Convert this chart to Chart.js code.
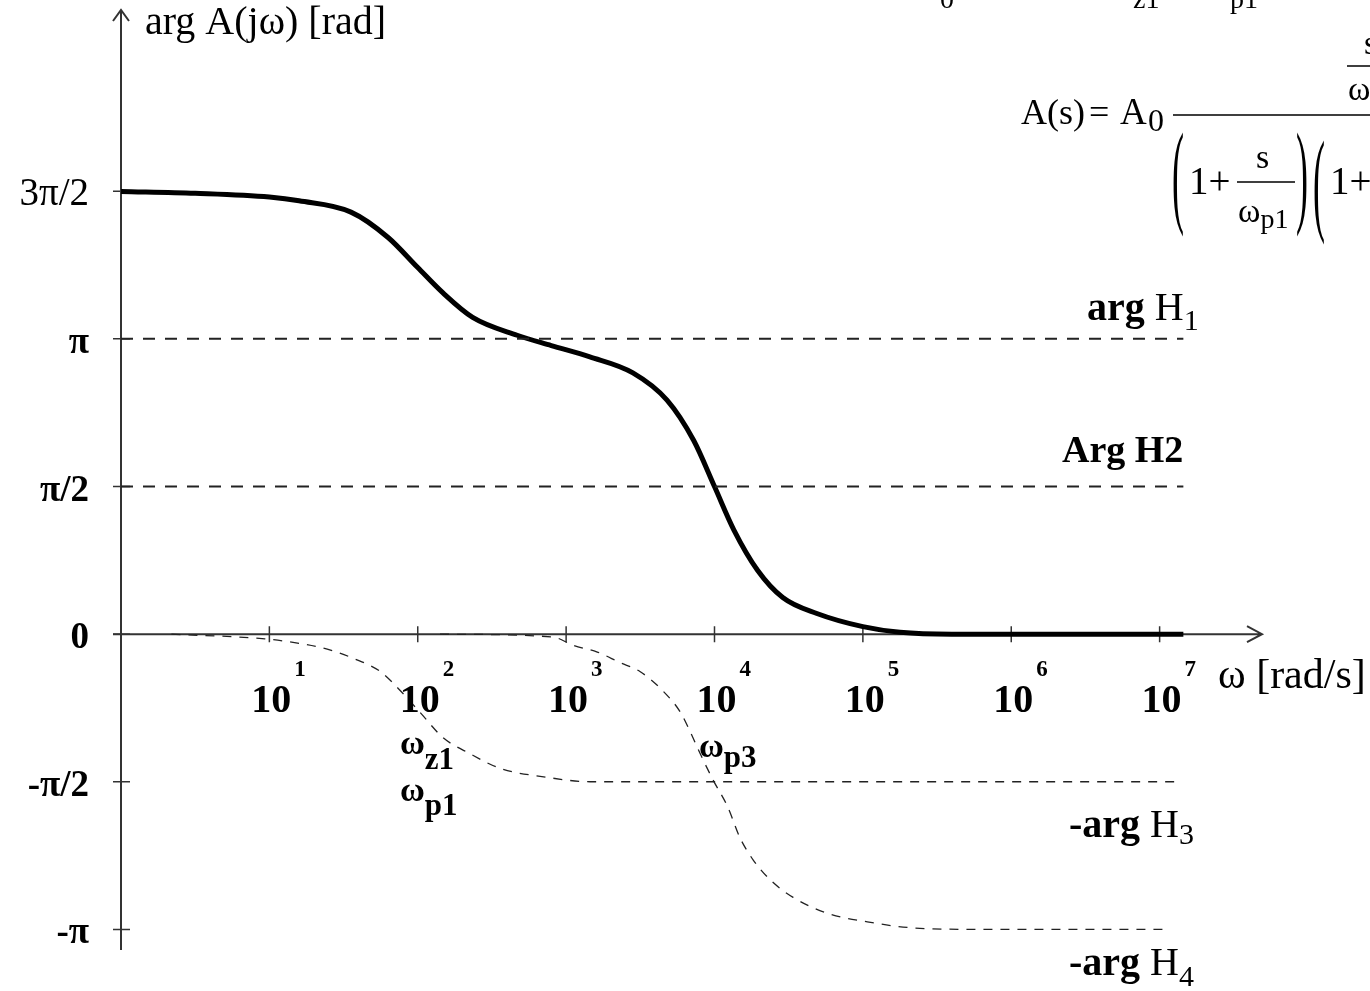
<!DOCTYPE html>
<html>
<head>
<meta charset="utf-8">
<title>arg A(jω)</title>
<script src="https://cdn.jsdelivr.net/npm/chart.js@4"></script>
<style>
  html, body { margin: 0; padding: 0; background: #fff; }
  #wrap { position: relative; width: 1370px; height: 991px; }
</style>
</head>
<body>
<div id="wrap"><canvas id="phaseChart"></canvas></div>
<script>
const PI = Math.PI;

// x positions are in decades (log10 of ω), values are phase in rad
const tickDecades = [1, 2, 3, 4, 5, 6, 7];
const yTickValues = [3 * PI / 2, PI, PI / 2, 0, -PI / 2, -PI];
const yTickLabels = ['3π/2', 'π', 'π/2', '0', '-π/2', '-π'];

// arg A(jω) - solid curve
const argALogW = [0, 0.5, 1.0, 1.2, 1.55, 1.8, 2.0, 2.17, 2.37, 2.67, 2.9, 3.16, 3.45, 3.68, 3.86, 4.0, 4.13, 4.29, 4.46, 4.69, 5.0, 5.25, 5.6, 6.2, 7.16];
const argA = [4.71, 4.69, 4.65, 4.61, 4.49, 4.22, 3.90, 3.63, 3.37, 3.18, 3.07, 2.95, 2.78, 2.49, 2.06, 1.57, 1.11, 0.68, 0.39, 0.22, 0.08, 0.02, 0.0, 0.0, 0.0];

// constant parts
const argH1LogW = [0, 7.16];
const argH1 = [PI, PI];
const argH2LogW = [0, 7.16];
const argH2 = [PI / 2, PI / 2];

// -arg H3 (pole at ωp1) and -arg H4 (double pole at ωp3)
const argH3LogW = [0.34, 0.97, 1.21, 1.39, 1.57, 1.75, 1.87, 2.02, 2.17, 2.35, 2.56, 2.86, 3.16, 4.0, 7.14];
const argH3 = [0, -0.05, -0.10, -0.16, -0.26, -0.40, -0.58, -0.84, -1.10, -1.27, -1.43, -1.52, -1.57, -1.57, -1.57];
const argH4LogW = [2.15, 2.91, 3.05, 3.21, 3.36, 3.50, 3.65, 3.77, 3.84, 3.90, 3.99, 4.09, 4.17, 4.26, 4.38, 4.53, 4.76, 5.03, 5.30, 5.75, 7.07];
const argH4 = [0, -0.03, -0.12, -0.19, -0.30, -0.40, -0.60, -0.83, -1.05, -1.26, -1.55, -1.84, -2.16, -2.40, -2.62, -2.80, -2.97, -3.06, -3.12, -3.14, -3.14];

function toPoints(logW, vals) {
  return logW.map((l, i) => ({ x: Math.pow(10, l), y: vals[i] }));
}

const SERIF = '"Liberation Serif", "Times New Roman", serif';

function txt(ctx, s, x, y, size, weight, align) {
  ctx.font = (weight || 'normal') + ' ' + size + 'px ' + SERIF;
  ctx.textAlign = align || 'left';
  ctx.fillText(s, x, y);
  return ctx.measureText(s).width;
}

// axes with arrows, ticks and all labels
const drawingPlugin = {
  id: 'drawing',
  beforeDatasetsDraw(chart) {
    const ctx = chart.ctx;
    const xs = chart.scales.x, ys = chart.scales.y;
    const area = chart.chartArea;
    const ax = xs.getPixelForValue(1);
    const ay = ys.getPixelForValue(0);
    ctx.save();
    ctx.strokeStyle = '#333';
    ctx.lineWidth = 2;
    ctx.beginPath();
    // y axis + arrow
    ctx.moveTo(ax, area.bottom);
    ctx.lineTo(ax, area.top);
    ctx.moveTo(ax - 8, area.top + 11);
    ctx.lineTo(ax, area.top);
    ctx.lineTo(ax + 8, area.top + 11);
    // x axis + arrow
    ctx.moveTo(ax - 8, ay);
    ctx.lineTo(area.right, ay);
    ctx.moveTo(area.right - 15, ay - 8);
    ctx.lineTo(area.right, ay);
    ctx.lineTo(area.right - 15, ay + 8);
    ctx.stroke();

    ctx.lineWidth = 1.5;
    ctx.beginPath();
    tickDecades.forEach(n => {
      const px = xs.getPixelForValue(Math.pow(10, n));
      ctx.moveTo(px, ay - 8);
      ctx.lineTo(px, ay + 8);
    });
    yTickValues.forEach(v => {
      const py = ys.getPixelForValue(v);
      ctx.moveTo(ax - 8, py);
      ctx.lineTo(ax + 9, py);
    });
    ctx.stroke();
    ctx.restore();
  },
  afterDraw(chart) {
    const ctx = chart.ctx;
    const xs = chart.scales.x, ys = chart.scales.y;
    const ay = ys.getPixelForValue(0);
    ctx.save();
    ctx.fillStyle = '#000';
    ctx.textBaseline = 'alphabetic';

    // x tick labels 10^n
    tickDecades.forEach(n => {
      const px = xs.getPixelForValue(Math.pow(10, n));
      const w = txt(ctx, '10', px - 18, ay + 78, 40, 'bold');
      txt(ctx, String(n), px - 18 + w + 3, ay + 42, 23, 'bold');
    });

    // y tick labels
    yTickLabels.forEach((lab, i) => {
      const py = ys.getPixelForValue(yTickValues[i]);
      txt(ctx, lab, 89, py + 14, i === 0 ? 39 : 37, i === 0 ? 'normal' : 'bold', 'right');
    });

    // axis titles
    txt(ctx, 'arg A(jω) [rad]', 145, 34, 40);
    txt(ctx, 'ω [rad/s]', 1218, 688, 42);

    // component labels
    let w = txt(ctx, 'arg', 1087, 320, 40, 'bold');
    w += txt(ctx, ' H', 1087 + w, 320, 40);
    txt(ctx, '1', 1087 + w, 330, 30);

    txt(ctx, 'Arg H2', 1062, 462, 38, 'bold');

    w = txt(ctx, '-arg', 1069, 837, 40, 'bold');
    w += txt(ctx, ' H', 1069 + w, 837, 40);
    txt(ctx, '3', 1069 + w, 844, 30);

    w = txt(ctx, '-arg', 1069, 975, 40, 'bold');
    w += txt(ctx, ' H', 1069 + w, 975, 40);
    txt(ctx, '4', 1069 + w, 986, 30);

    // break frequencies
    w = txt(ctx, 'ω', 400, 754, 34, 'bold');
    txt(ctx, 'z1', 400 + w, 769, 31, 'bold');
    w = txt(ctx, 'ω', 400, 801, 34, 'bold');
    txt(ctx, 'p1', 400 + w, 815, 31, 'bold');
    w = txt(ctx, 'ω', 699, 757, 34, 'bold');
    txt(ctx, 'p3', 699 + w, 767, 31, 'bold');

    // transfer function (cut by the right edge)
    txt(ctx, '0', 940, 8, 28);
    txt(ctx, 'z1', 1133, 8, 28);
    txt(ctx, 'p1', 1230, 8, 28);

    txt(ctx, 'A(s)', 1021, 124, 36);
    txt(ctx, '=', 1089, 124, 36);
    txt(ctx, 'A', 1120, 124, 37);
    txt(ctx, '0', 1148, 131, 32);

    ctx.strokeStyle = '#000';
    ctx.lineWidth = 1.5;
    ctx.beginPath();
    ctx.moveTo(1173, 115); ctx.lineTo(1370, 115);
    ctx.moveTo(1237, 182); ctx.lineTo(1295, 182);
    ctx.moveTo(1347, 66); ctx.lineTo(1370, 66);
    ctx.stroke();

    txt(ctx, 'ω', 1348, 100, 34);
    txt(ctx, 's', 1364, 54, 34);
    txt(ctx, '1+', 1189, 194, 39);
    txt(ctx, 's', 1256, 168, 34);
    w = txt(ctx, 'ω', 1238, 222, 34);
    txt(ctx, 'p1', 1238 + w, 228, 28);
    txt(ctx, '1+', 1330, 194, 39);

    // tall parentheses
    [['(', 1172, 182], [')', 1296, 182], ['(', 1313, 190]].forEach(p => {
      ctx.save();
      ctx.translate(p[1], p[2]);
      ctx.scale(1, 3.2);
      ctx.font = '36px ' + SERIF;
      ctx.textAlign = 'left';
      ctx.textBaseline = 'middle';
      ctx.fillText(p[0], 0, 0);
      ctx.restore();
    });
    ctx.restore();
  }
};

const phaseCtx = document.getElementById('phaseChart').getContext('2d');
new Chart(phaseCtx, {
  type: 'line',
  data: {
    datasets: [
      {
        label: 'arg H1',
        data: toPoints(argH1LogW, argH1),
        borderColor: '#222',
        borderWidth: 2,
        borderDash: [12, 10],
        pointRadius: 0
      },
      {
        label: 'Arg H2',
        data: toPoints(argH2LogW, argH2),
        borderColor: '#222',
        borderWidth: 2,
        borderDash: [12, 10],
        pointRadius: 0
      },
      {
        label: '-arg H3',
        data: toPoints(argH3LogW, argH3),
        borderColor: '#222',
        borderWidth: 1.3,
        borderDash: [9, 8],
        cubicInterpolationMode: 'monotone',
        pointRadius: 0
      },
      {
        label: '-arg H4',
        data: toPoints(argH4LogW, argH4),
        borderColor: '#222',
        borderWidth: 1.3,
        borderDash: [9, 8],
        cubicInterpolationMode: 'monotone',
        pointRadius: 0
      },
      {
        label: 'arg A(jω)',
        data: toPoints(argALogW, argA),
        borderColor: '#000',
        borderWidth: 5,
        cubicInterpolationMode: 'monotone',
        pointRadius: 0
      }
    ]
  },
  options: {
    responsive: true,
    maintainAspectRatio: false,
    animation: false,
    events: [],
    layout: {
      padding: { left: 121, right: 108, top: 10, bottom: 41 }
    },
    scales: {
      x: {
        type: 'logarithmic',
        display: false,
        min: 1,
        max: Math.pow(10, 7.69)
      },
      y: {
        type: 'linear',
        display: false,
        min: -3.36,
        max: 6.64
      }
    },
    plugins: {
      legend: { display: false },
      tooltip: { enabled: false },
      title: { display: false }
    }
  },
  plugins: [drawingPlugin]
});
</script>
</body>
</html>
